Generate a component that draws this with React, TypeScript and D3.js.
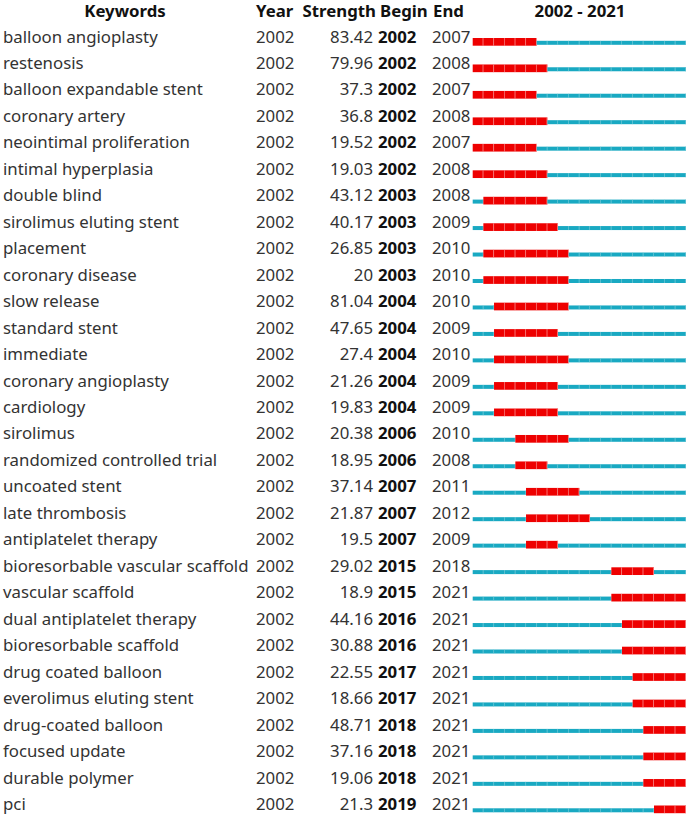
import * as d3 from "d3";

const keywords = [
  "balloon angioplasty", "restenosis", "balloon expandable stent", "coronary artery",
  "neointimal proliferation", "intimal hyperplasia", "double blind", "sirolimus eluting stent",
  "placement", "coronary disease", "slow release", "standard stent", "immediate",
  "coronary angioplasty", "cardiology", "sirolimus", "randomized controlled trial",
  "uncoated stent", "late thrombosis", "antiplatelet therapy", "bioresorbable vascular scaffold",
  "vascular scaffold", "dual antiplatelet therapy", "bioresorbable scaffold", "drug coated balloon",
  "everolimus eluting stent", "drug-coated balloon", "focused update", "durable polymer", "pci",
];
const strengths = [
  "83.42", "79.96", "37.3", "36.8", "19.52", "19.03", "43.12", "40.17", "26.85", "20",
  "81.04", "47.65", "27.4", "21.26", "19.83", "20.38", "18.95", "37.14", "21.87", "19.5",
  "29.02", "18.9", "44.16", "30.88", "22.55", "18.66", "48.71", "37.16", "19.06", "21.3",
];
const begins = [
  2002, 2002, 2002, 2002, 2002, 2002, 2003, 2003, 2003, 2003,
  2004, 2004, 2004, 2004, 2004, 2006, 2006, 2007, 2007, 2007,
  2015, 2015, 2016, 2016, 2017, 2017, 2018, 2018, 2018, 2019,
];
const ends = [
  2007, 2008, 2007, 2008, 2007, 2008, 2008, 2009, 2010, 2010,
  2010, 2009, 2010, 2009, 2009, 2010, 2008, 2011, 2012, 2009,
  2018, 2021, 2021, 2021, 2021, 2021, 2021, 2021, 2021, 2021,
];
const firstYear = 2002;
const lastYear = 2021;

const width = 688;
const height = 818;
const font = "'Noto Sans', sans-serif";

export default function App() {
  const rows = keywords.map((k, i) => ({ k, s: strengths[i], b: begins[i], e: ends[i] }));
  const years = d3.range(firstYear, lastYear + 1);

  // baseline of each row
  const y = d3.scalePoint<number>()
    .domain(d3.range(rows.length))
    .range([42.5, 810]);
  const x = d3.scaleLinear()
    .domain([firstYear, lastYear + 1])
    .range([472.7, 686]);

  return (
    <svg width={width} height={height} style={{ position: "absolute", left: 0, top: 0 }}
      fontFamily={font}>
      <rect width={width} height={height} fill="#fff" />
      <g fontWeight="bold" fontSize={16.8} fill="#111">
        <text x={125} y={17} textAnchor="middle">Keywords</text>
        <text x={256} y={17}>Year</text>
        <text x={376} y={17} textAnchor="end">Strength</text>
        <text x={380} y={17}>Begin</text>
        <text x={433} y={17}>End</text>
        <text x={580} y={17} textAnchor="middle">2002 - 2021</text>
      </g>
      {rows.map((r, i) => {
        const by = y(i)!;
        return (
          <g key={r.k} fontSize={16.8} fill="#333">
            <text x={3} y={by}>{r.k}</text>
            <text x={256} y={by}>{firstYear}</text>
            <text x={373} y={by} textAnchor="end">{r.s}</text>
            <text x={378} y={by} fontWeight="bold" fill="#111">{r.b}</text>
            <text x={432} y={by}>{r.e}</text>
            {years.map(yr => {
              const inBurst = yr >= r.b && yr <= r.e;
              const x0 = x(yr);
              const x1 = x(yr + 1);
              return inBurst ? (
                <g key={yr}>
                  <rect x={x0} y={by - 4.5} width={x1 - x0} height={7.7} fill="#ee0000" />
                  <rect x={x1 - 0.7} y={by - 4.5} width={0.7} height={7.7} fill="#f7a0a0" />
                </g>
              ) : (
                <g key={yr}>
                  <rect x={x0} y={by - 1.7} width={x1 - x0} height={4} fill="#19a9c2" />
                  <rect x={x1 - 0.6} y={by - 1.7} width={0.6} height={4} fill="#7fccd9" />
                </g>
              );
            })}
          </g>
        );
      })}
    </svg>
  );
}
